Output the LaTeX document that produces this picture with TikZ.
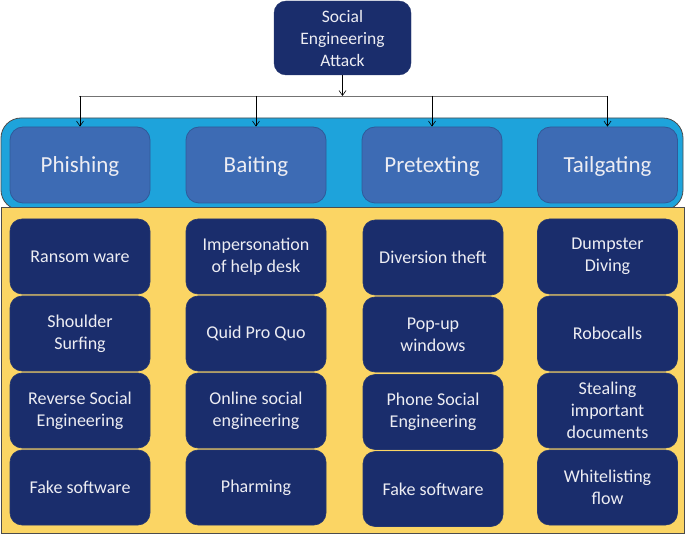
\documentclass[tikz,border=0pt]{standalone}
\usepackage{fontspec}
\setmainfont{Carlito}
\usetikzlibrary{arrows.meta}
\definecolor{navy}{HTML}{1A2D6C}
\definecolor{navyb}{HTML}{26386F}
\definecolor{catfill}{HTML}{3D6BB4}
\definecolor{catdraw}{HTML}{2F5A9A}
\definecolor{band}{HTML}{1EA3DB}
\definecolor{panel}{HTML}{FBD564}
\definecolor{txt}{HTML}{EDEDF3}
\tikzset{
  x=1pt,y=-1pt,
  subbox/.style={draw=navyb,fill=navy,rounded corners=12pt,minimum width=140pt,minimum height=75pt,
    text=txt,align=center,font=\fontsize{18}{22}\selectfont,inner sep=2pt,line width=0.6pt},
  catbox/.style={draw=catdraw,fill=catfill,rounded corners=13pt,minimum width=140pt,minimum height=76pt,
    text=txt,align=center,font=\fontsize{23}{26}\selectfont,line width=0.8pt,text depth=0pt},
  topbox/.style={draw=navyb,fill=navy,rounded corners=12pt,minimum width=137pt,minimum height=74pt,
    text=txt,align=center,font=\fontsize{17.5}{22}\selectfont,inner sep=1pt},
  conn/.style={draw=black,line width=0.6pt},
  arr/.style={conn,-{Straight Barb[length=5pt,width=7pt]}}
}
\begin{document}
\begin{tikzpicture}
\useasboundingbox (0,0) rectangle (685,534);
% band and panel
\draw[fill=band,draw=black!70,line width=0.8pt,rounded corners=20pt] (1,118) rectangle (683,210);
\draw[fill=panel,draw=black!70,line width=1pt] (1,208) rectangle (684,533);
% top node
\node[topbox] (top) at (342.5,38) {Social\\Engineering\\Attack};
% categories
\node[catbox] (c1) at (80,165) {Phishing};
\node[catbox] (c2) at (256,165) {Baiting};
\node[catbox] (c3) at (432,165) {Pretexting};
\node[catbox] (c4) at (607.5,165) {Tailgating};
% connectors
\coordinate (h) at (342.5,96);
\coordinate (hl) at (79,96);
\coordinate (hr) at (607,96);
\draw[conn,draw=black!55] (hl) -- (hr);
\draw[arr] (top.south) -- (h);
\foreach \c in {c1,c2,c3,c4}{
  \draw[arr] (\c.north |- h) -- (\c.north);
}
% sub boxes
\node[subbox] (a1) at (80,256.5) {Ransom ware};
\node[subbox] (a2) at (80,333.5) {Shoulder\\Surfing};
\node[subbox] (a3) at (80,410.5) {Reverse Social\\Engineering};
\node[subbox] (a4) at (80,487.5) {Fake software};
\node[subbox] (b1) at (256,256.5) {Impersonation\\of help desk};
\node[subbox] (b2) at (256,333.5) {Quid Pro Quo};
\node[subbox] (b3) at (256,410.5) {Online social\\engineering};
\node[subbox] (b4) at (256,487.5) {Pharming};
\node[subbox] (p1) at (433,257.5) {Diversion theft};
\node[subbox] (p2) at (433,334.5) {Pop-up\\windows};
\node[subbox] (p3) at (433,412) {Phone Social\\Engineering};
\node[subbox] (p4) at (433,489) {Fake software};
\node[subbox] (t1) at (607.5,256.5) {Dumpster\\Diving};
\node[subbox] (t2) at (607.5,333.5) {Robocalls};
\node[subbox] (t3) at (607.5,410.5) {Stealing\\important\\documents};
\node[subbox] (t4) at (607.5,487.5) {Whitelisting\\flow};
\end{tikzpicture}
\end{document}
